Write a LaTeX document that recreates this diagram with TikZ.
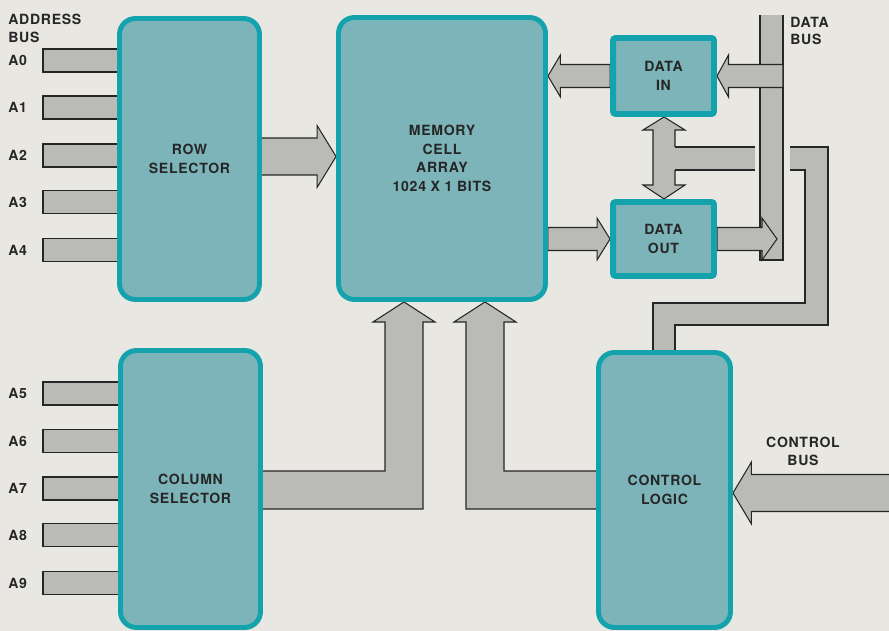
\documentclass[tikz,border=0pt]{standalone}
\usepackage{fontspec}
\setmainfont{TeX Gyre Heros}[LetterSpace=5]
\usetikzlibrary{calc}

\definecolor{paper}{RGB}{233,231,226}
\definecolor{tealfill}{RGB}{124,180,185}
\definecolor{tealedge}{RGB}{20,162,172}
\definecolor{busgray}{RGB}{186,186,182}
\definecolor{ink}{RGB}{38,38,38}

\pgfdeclarelayer{paperlayer}
\pgfdeclarelayer{buslayer}
\pgfsetlayers{paperlayer,buslayer,main}

\tikzset{
  block/.style={draw=tealedge, fill=tealfill, line width=2.8pt, rounded corners=9pt,
    inner sep=0pt, align=center, text=ink, font=\fontsize{8}{10.5}\selectfont\bfseries},
  iobox/.style={block, line width=3.4pt, rounded corners=1.5pt},
  busfill/.style={fill=busgray},
  busline/.style={draw=ink, line width=0.6pt},
  busbar/.style={busfill, busline},
  lbl/.style={font=\fontsize{8}{10.2}\selectfont\bfseries, text=ink, inner sep=0pt, align=left}
}

% block arrow: tail, tip, half shaft, half head, head length
\newcommand{\blockarrow}[5]{%
  \coordinate (hb) at ($(#2)!#5!(#1)$);
  \filldraw[busbar] ($(#1)!#3!90:(#2)$) -- ($(hb)!#3!90:(#2)$) -- ($(hb)!#4!90:(#2)$) -- (#2)
    -- ($(hb)!#4!-90:(#2)$) -- ($(hb)!#3!-90:(#2)$) -- ($(#1)!#3!-90:(#2)$) -- cycle;
}

\begin{document}
\begin{tikzpicture}[x=0.02cm, y=-0.02cm]
  \useasboundingbox (0,0) rectangle (889,631);
  \begin{pgfonlayer}{paperlayer}
    \fill[paper] (0,0) rectangle (889,631);
  \end{pgfonlayer}

  % Blocks
  \node[block, minimum width=2.8cm, minimum height=5.62cm] (row) at (189.5,159) {ROW\\SELECTOR};
  \node[block, minimum width=4.14cm, minimum height=5.64cm] (mem) at (442,158.5) {MEMORY\\CELL\\ARRAY\\1024 X 1 BITS};
  \node[iobox, minimum width=2.02cm, minimum height=1.52cm] (din) at (663.5,76) {DATA\\IN};
  \node[iobox, minimum width=2.02cm, minimum height=1.48cm] (dout) at (663.5,239) {DATA\\OUT};
  \node[block, minimum width=2.8cm, minimum height=5.54cm] (col) at (190.5,489) {COLUMN\\SELECTOR};
  \node[block, minimum width=2.64cm, minimum height=5.5cm] (ctl) at (664.5,490) {CONTROL\\LOGIC};

  % Bus labels
  \node[lbl, anchor=west] (addrbus) at (8,28) {ADDRESS\\BUS};
  \node[lbl, anchor=west] (databus) at (790,31) {DATA\\BUS};
  \node[lbl, align=center] (ctlbus) at (803,451) {CONTROL\\BUS};

  \begin{pgfonlayer}{buslayer}
    % Address lines
    \foreach \n/\y in {0/60.5,1/107.5,2/155.5,3/202,4/250} {
      \node[lbl, anchor=west] (a\n) at (8,\y) {A\n};
      \filldraw[busbar] (43,\y-11.5) rectangle (row.center |- 0,\y+11.5);
    }
    \foreach \n/\y in {5/393.5,6/441,7/488.5,8/535,9/583} {
      \node[lbl, anchor=west] (a\n) at (8,\y) {A\n};
      \filldraw[busbar] (43,\y-11.5) rectangle (col.center |- 0,\y+11.5);
    }

    % Row and column selectors to the array
    \coordinate (rowout) at (row.center |- 0,156.5);
    \coordinate (memin) at (mem.west |- 0,156.5);
    \blockarrow{rowout}{memin}{0.37cm}{0.62cm}{0.38cm}
    \filldraw[busbar] (col.center |- 0,471) -- (385,471) -- (385,322) -- (373,322) -- (404,0 |- mem.south)
      -- (435,322) -- (423,322) -- (423,509) -- (col.center |- 0,509) -- cycle;

    % Control logic to the array
    \filldraw[busbar] (ctl.center |- 0,471) -- (504,471) -- (504,322) -- (516,322) -- (485,0 |- mem.south)
      -- (454,322) -- (466,322) -- (466,509) -- (ctl.center |- 0,509) -- cycle;
    \coordinate (cbin) at (910,493);
    \coordinate (ctlin) at (ctl.east |- 0,493);
    \blockarrow{cbin}{ctlin}{0.37cm}{0.62cm}{0.37cm}

    % Data in / data out link, branch down to control logic
    \filldraw[busbar] (653,130) -- (643,130) -- (664,0 |- din.south) -- (685,130) -- (675,130) -- (675,185)
      -- (685,185) -- (664,0 |- dout.north) -- (643,185) -- (653,185) -- cycle;
    \fill[busfill] (674,147) rectangle (755,170);
    \draw[busline] (675,147) -- (755,147) (675,170) -- (755,170);
    \fill[busfill] (790,147) -- (828,147) -- (828,325) -- (675,325) -- (675,0 |- ctl.center)
      -- (653,0 |- ctl.center) -- (653,303) -- (805,303) -- (805,170) -- (790,170) -- cycle;
    \draw[busline] (790,147) -- (828,147) -- (828,325) -- (675,325) -- (675,0 |- ctl.center);
    \draw[busline] (790,170) -- (805,170) -- (805,303) -- (653,303) -- (653,0 |- ctl.center);

    % Data bus
    \fill[busfill] (760,15) rectangle (783,260);
    \draw[busline] (760,15) -- (760,260) -- (783,260) -- (783,15);
    \coordinate (busin) at (783,0 |- din.east);
    \blockarrow{busin}{din.east}{0.23cm}{0.42cm}{0.23cm}
    \coordinate (memout) at (mem.east |- din.west);
    \blockarrow{din.west}{memout}{0.23cm}{0.42cm}{0.25cm}
    \coordinate (memdo) at (mem.east |- dout.west);
    \blockarrow{memdo}{dout.west}{0.23cm}{0.42cm}{0.26cm}
    \coordinate (busout) at (777,0 |- dout.east);
    \blockarrow{dout.east}{busout}{0.23cm}{0.42cm}{0.3cm}
  \end{pgfonlayer}
\end{tikzpicture}
\end{document}
